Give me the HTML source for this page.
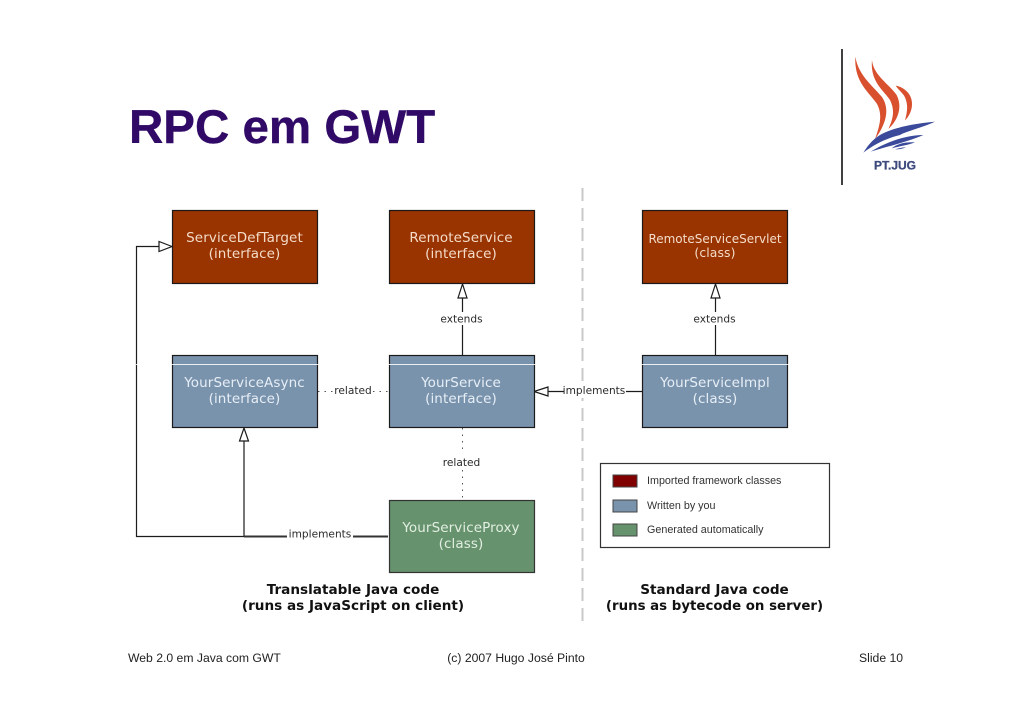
<!DOCTYPE html>
<html><head><meta charset="utf-8"><style>
html,body{margin:0;padding:0;background:#fff}
svg{display:block}
.d{font-family:"DejaVu Sans",sans-serif;font-size:10.6px;text-anchor:middle;fill:#2a2a2a}
.n{font-family:"DejaVu Sans",sans-serif;font-size:13.5px;text-anchor:middle;letter-spacing:.1px}
.b{font-family:"DejaVu Sans",sans-serif;font-size:13.6px;font-weight:bold;text-anchor:middle;fill:#111}
.a{font-family:"Liberation Sans",sans-serif;font-size:12.2px;fill:#222}
.l{font-family:"Liberation Sans",sans-serif;font-size:10.75px;fill:#333}
</style></head><body>
<svg xmlns="http://www.w3.org/2000/svg" width="1030" height="728" viewBox="0 0 1030 728">
<rect width="1030" height="728" fill="#fff"/>
<text x="129" y="143" font-family="Liberation Sans,sans-serif" font-weight="bold" font-size="47.5px" fill="#300a66" stroke="#300a66" stroke-width=".4">RPC em GWT</text>
<line x1="842" y1="49" x2="842" y2="185" stroke="#111" stroke-width="1.6"/>
<g transform="translate(830,40) scale(.3333)">
<path d="M76 50C85 105 125 135 155 170C180 205 170 250 135 297C148 260 160 225 140 190C115 155 72 125 76 50Z" fill="#d9502f"/>
<path d="M126 60C130 105 175 130 200 165C220 205 200 245 175 267C190 235 195 210 180 180C160 150 120 125 126 60Z" fill="#d9502f"/>
<path d="M197 137C225 142 248 165 246 195C245 215 235 232 225 241C232 215 235 195 225 172C218 158 205 150 197 137Z" fill="#d9502f"/>
<path d="M315 245C260 250 190 262 150 285C125 300 110 322 100 338C135 312 170 295 210 285C225 275 280 262 315 245Z" fill="#3b4a9a"/>
<path d="M280 285C230 285 170 305 122 335C170 320 235 305 280 285Z" fill="#3b4a9a"/>
<path d="M255 307C225 305 200 312 185 325C210 318 235 315 255 307Z" fill="#3b4a9a"/>
<path d="M228 322C215 322 205 325 195 328C208 328 218 326 228 322Z" fill="#3b4a9a"/>
</g>
<text x="895" y="169.500" font-family="Liberation Sans,sans-serif" font-weight="bold" font-size="12px" fill="#3d4a7d" stroke="#3d4a7d" stroke-width=".3" text-anchor="middle">PT.JUG</text>

<line x1="582.500" y1="188" x2="582.500" y2="622" stroke="#c8c8c8" stroke-width="2" stroke-dasharray="13 7"/>

<g stroke="#1c1c1c" stroke-width="1.2" fill="none">
<path d="M159 246.500H136.500V536.500H388" />
<path d="M244 441V536" />
<path d="M462.500 298V355"/>
<path d="M715.500 298V355"/>
<path d="M548 391.500H642"/>
</g>
<rect x="287" y="530" width="66" height="12" fill="#fff"/>
<rect x="438" y="312" width="49" height="13" fill="#fff"/>
<rect x="691" y="312" width="49" height="13" fill="#fff"/>
<rect x="564" y="384" width="62" height="14" fill="#fff"/>
<line x1="353" y1="536.500" x2="388" y2="536.500" stroke="#333" stroke-width="2"/>
<line x1="244" y1="536.500" x2="287" y2="536.500" stroke="#333" stroke-width="2"/>
<g fill="#fff" stroke="#1c1c1c" stroke-width="1.2">
<path d="M172 246.500L159 241.500V251.500Z"/>
<path d="M244 428L239.500 441H248.500Z"/>
<path d="M462.500 284L458 298H467Z"/>
<path d="M715.500 284L711 298H720Z"/>
<path d="M534 391.500L548 387V396Z"/>
</g>
<g stroke="#555" stroke-width="1" stroke-dasharray="1.500 5" fill="none">
<path d="M318 391.500H333"/>
<path d="M373 391.500H389"/>
<path d="M462.500 428V454"/>
<path d="M462.500 470V500"/>
</g>

<g stroke="#1a1a1a" stroke-width="1.2">
<rect x="172.500" y="210.500" width="145" height="73" fill="#993300"/>
<rect x="389.500" y="210.500" width="145" height="73" fill="#993300"/>
<rect x="642.500" y="210.500" width="145" height="73" fill="#993300"/>
<rect x="172.500" y="355.500" width="145" height="72" fill="#7a93ad"/>
<rect x="389.500" y="355.500" width="145" height="72" fill="#7a93ad"/>
<rect x="642.500" y="355.500" width="145" height="72" fill="#7a93ad"/>
<rect x="389.500" y="500.500" width="145" height="72" fill="#66926d" stroke="#333"/>
</g>
<line x1="136" y1="364.500" x2="790" y2="364.500" stroke="#fff" stroke-width="1" opacity=".85"/>

<text class="n" x="244.500" y="242" fill="#f4dcc8">ServiceDefTarget</text>
<text class="n" x="244.500" y="258" fill="#f4dcc8">(interface)</text>
<text class="n" x="461" y="242" fill="#f4dcc8">RemoteService</text>
<text class="n" x="461" y="258" fill="#f4dcc8">(interface)</text>
<text class="n" x="715" y="243" fill="#f4dcc8" style="font-size:12px;letter-spacing:0">RemoteServiceServlet</text>
<text class="n" x="715" y="257" fill="#f4dcc8" style="font-size:12.4px">(class)</text>
<text class="n" x="244.500" y="387" fill="#e6eef6">YourServiceAsync</text>
<text class="n" x="244.500" y="403" fill="#e6eef6">(interface)</text>
<text class="n" x="461" y="387" fill="#e6eef6">YourService</text>
<text class="n" x="461" y="403" fill="#e6eef6">(interface)</text>
<text class="n" x="715" y="387" fill="#e6eef6">YourServiceImpl</text>
<text class="n" x="715" y="403" fill="#e6eef6">(class)</text>
<text class="n" x="461" y="532" fill="#e2efe2">YourServiceProxy</text>
<text class="n" x="461" y="548" fill="#e2efe2">(class)</text>

<text class="d" x="461.500" y="322.500">extends</text>
<text class="d" x="714.500" y="322.500">extends</text>
<text class="d" x="353" y="394">related</text>
<text class="d" x="594" y="394">implements</text>
<text class="d" x="461.500" y="466">related</text>
<text class="d" x="320" y="537.500">implements</text>

<text class="b" x="353" y="594">Translatable Java code</text>
<text class="b" x="353" y="610">(runs as JavaScript on client)</text>
<text class="b" x="714.500" y="594">Standard Java code</text>
<text class="b" x="714.500" y="610" style="font-size:13.35px">(runs as bytecode on server)</text>

<rect x="600.500" y="463.500" width="229" height="84" fill="#fff" stroke="#333" stroke-width="1.2"/>
<rect x="613" y="475" width="24" height="12" fill="#800000" stroke="#444"/>
<rect x="613" y="500" width="24" height="12" fill="#7a93ad" stroke="#444"/>
<rect x="613" y="524" width="24" height="12" fill="#66926d" stroke="#444"/>
<text class="l" x="647" y="484">Imported framework classes</text>
<text class="l" x="647" y="509">Written by you</text>
<text class="l" x="647" y="533">Generated automatically</text>

<text class="a" x="128" y="662">Web 2.0 em Java com GWT</text>
<text class="a" x="516" y="662" text-anchor="middle">(c) 2007 Hugo José Pinto</text>
<text class="a" x="859" y="662">Slide 10</text>
</svg>
</body></html>
